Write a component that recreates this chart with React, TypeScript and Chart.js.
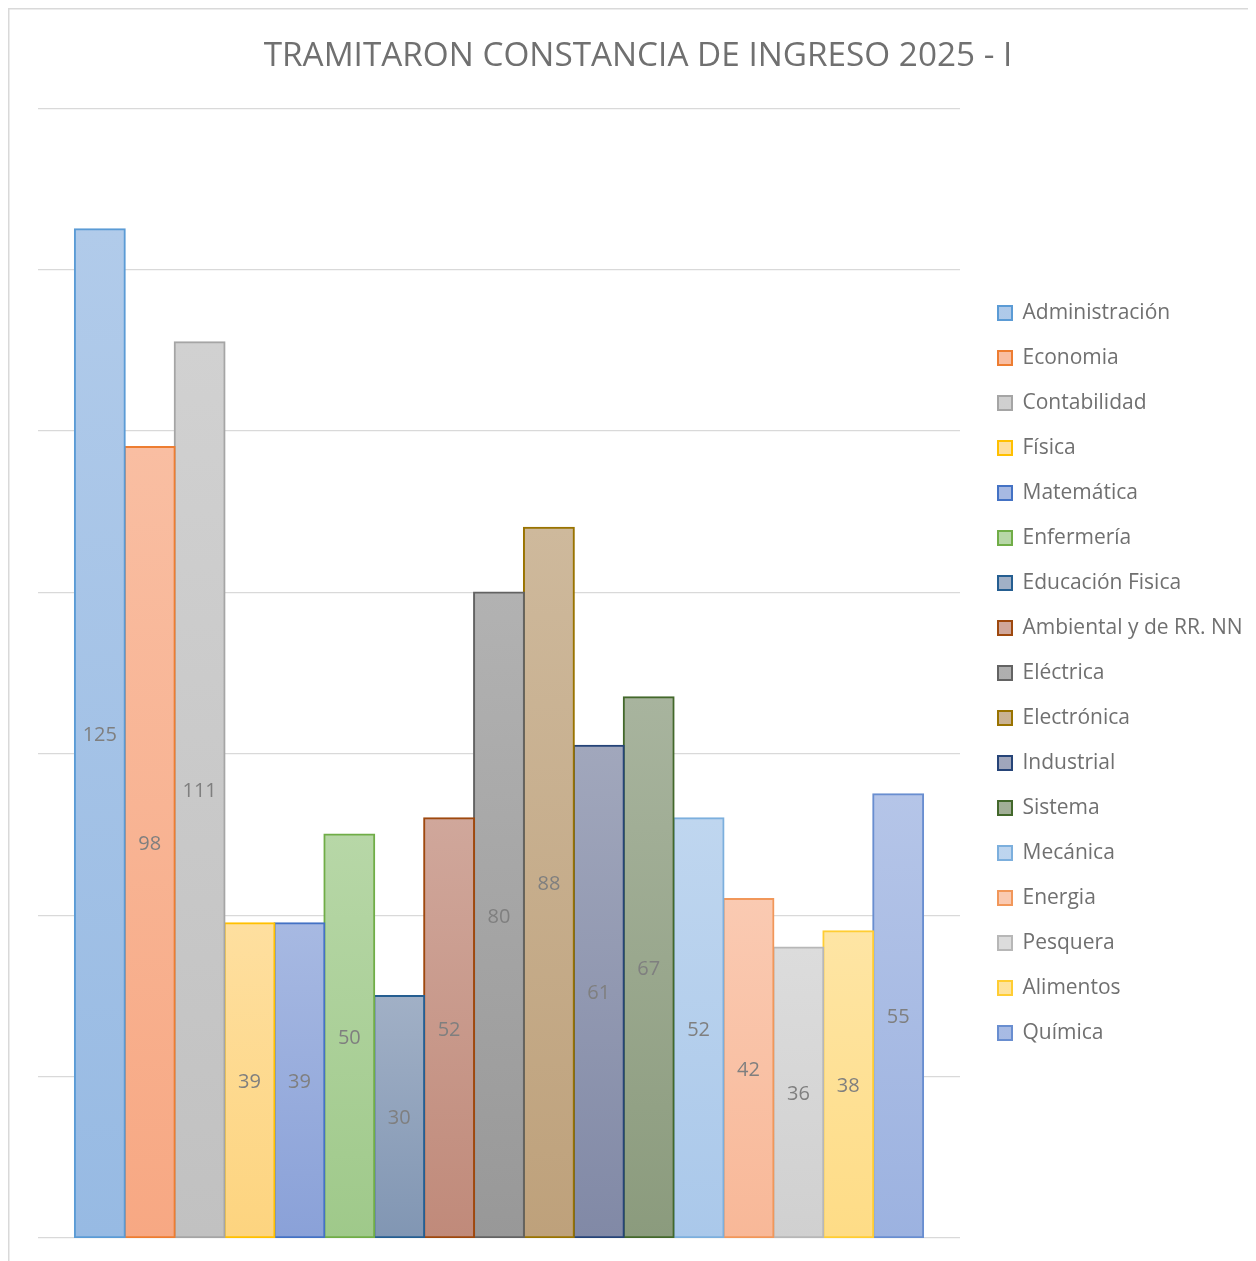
import React, { useEffect, useRef } from 'react';
import { Chart, registerables } from 'chart.js';

Chart.register(...registerables);

const TITLE = 'TRAMITARON CONSTANCIA DE INGRESO 2025 - I';
const CATEGORY = [''];
const programs = [
  'Administración',
  'Economia',
  'Contabilidad',
  'Física',
  'Matemática',
  'Enfermería',
  'Educación Fisica',
  'Ambiental y de RR. NN',
  'Eléctrica',
  'Electrónica',
  'Industrial',
  'Sistema',
  'Mecánica',
  'Energia',
  'Pesquera',
  'Alimentos',
  'Química',
];
const counts = [125, 98, 111, 39, 39, 50, 30, 52, 80, 88, 61, 67, 52, 42, 36, 38, 55];
const Y_MIN = 0;
const Y_MAX = 140;
const Y_STEP = 20;

// styles
const borderColors = [
  '#5b9bd5', '#ed7d31', '#a5a5a5', '#ffc000', '#4472c4', '#70ad47', '#255e91', '#9e480e', '#636363',
  '#997300', '#264478', '#43682b', '#7cafdd', '#f1975a', '#b7b7b7', '#ffcd33', '#698ed0',
];
const fillColors = [
  '#97bae3', '#f7a883', '#c1c1c1', '#fdd47f', '#8aa1d8', '#9fc98a', '#8196b3', '#c08a7a', '#989898',
  '#bea17b', '#8189a6', '#8b9b7d', '#aac8ea', '#f8b898', '#d0d0d0', '#fedc86', '#9cb2e0',
];

const W = 1260;
const H = 1280;
const FONT = '"Open Sans", "Noto Sans", sans-serif';
const TEXT_COLOR = '#707070';

function lighten(hex: string, t: number): string {
  const n = parseInt(hex.slice(1), 16);
  const r = (n >> 16) & 255, g = (n >> 8) & 255, b = n & 255;
  const f = (c: number) => Math.round(c + (255 - c) * t);
  return `rgb(${f(r)},${f(g)},${f(b)})`;
}

export default function App() {
  const ref = useRef<HTMLCanvasElement | null>(null);

  useEffect(() => {
    if (!ref.current) return;
    document.body.style.overflow = 'hidden';

    const legendFontSize = 21;
    const legendPadding = 24;
    const boxW = 14;
    const m = document.createElement('canvas').getContext('2d')!;
    m.font = `${legendFontSize}px ${FONT}`;
    const maxText = Math.max(...programs.map((p) => m.measureText(p).width));
    const legendW = legendPadding + boxW + legendFontSize / 2 + maxText + 10;
    const areaLeft = 30;
    const areaRight = 952;
    const legendLeft = 966;
    const sidePad = Math.max(0, W - legendLeft - legendW);

    const bgPlugin = {
      id: 'frame',
      beforeDraw(chart: any) {
        const c = chart.ctx;
        c.save();
        c.fillStyle = '#ffffff';
        c.fillRect(0, 0, chart.width, chart.height);
        c.strokeStyle = '#d9d9d9';
        c.lineWidth = 1.5;
        c.strokeRect(0.75, 0.75, chart.width - 1.5, chart.height - 1.5);
        c.restore();
      },
    };

    const labelPlugin = {
      id: 'barLabels',
      afterDatasetsDraw(chart: any) {
        const c = chart.ctx;
        c.save();
        c.font = `20px ${FONT}`;
        c.fillStyle = '#7f7f7f';
        c.textAlign = 'center';
        c.textBaseline = 'middle';
        chart.data.datasets.forEach((ds: any, i: number) => {
          const meta = chart.getDatasetMeta(i);
          meta.data.forEach((el: any, j: number) => {
            const { x, y, base } = el.getProps(['x', 'y', 'base'], true);
            c.fillText(String(ds.data[j]), x, (y + base) / 2 + 2);
          });
        });
        c.restore();
      },
    };

    const datasets = programs.map((name, i) => ({
      label: name,
      data: [counts[i]],
      borderColor: borderColors[i],
      borderWidth: 2,
      borderSkipped: false,
      inflateAmount: 1,
      backgroundColor: (ctx: any) => {
        const top = lighten(fillColors[i], 0.25);
        if (ctx.type !== 'data') return lighten(fillColors[i], 0.15);
        const chart = ctx.chart;
        const ys = chart.scales?.y;
        if (!chart.chartArea || !ys) return fillColors[i];
        const v = ctx.dataset.data[ctx.dataIndex];
        const y0 = ys.getPixelForValue(v);
        const y1 = ys.getPixelForValue(0);
        if (!isFinite(y0) || !isFinite(y1) || y0 === y1) return fillColors[i];
        const g = chart.ctx.createLinearGradient(0, y0, 0, y1);
        g.addColorStop(0, top);
        g.addColorStop(1, fillColors[i]);
        return g;
      },
    }));

    const chart = new Chart(ref.current, {
      type: 'bar',
      data: { labels: CATEGORY, datasets: datasets as any },
      plugins: [bgPlugin, labelPlugin],
      options: {
        responsive: false,
        animation: false,
        devicePixelRatio: 1,
        events: [],
        categoryPercentage: 0.92,
        barPercentage: 1,
        layout: {
          padding: { left: sidePad, right: sidePad, top: 0, bottom: H - 1230 },
        },
        scales: {
          x: {
            type: 'category',
            display: false,
            grid: { display: false },
          },
          y: {
            type: 'linear',
            position: 'left',
            min: Y_MIN,
            max: Y_MAX,
            ticks: { display: false, stepSize: Y_STEP },
            grid: { color: '#d9d9d9', lineWidth: 1.3, drawTicks: false },
            border: { display: false },
            afterFit: (s: any) => {
              s.width = areaLeft - sidePad;
            },
          },
          yRight: {
            type: 'linear',
            position: 'right',
            display: true,
            ticks: { display: false },
            grid: { display: false, drawTicks: false },
            border: { display: false },
            afterFit: (s: any) => {
              s.width = legendLeft - areaRight;
            },
          },
        },
        plugins: {
          title: {
            display: true,
            text: TITLE,
            color: TEXT_COLOR,
            font: { family: FONT, size: 33.3, weight: 'normal' as any, lineHeight: 1.2 },
            padding: { top: 28.2, bottom: 32 },
          },
          legend: {
            display: true,
            position: 'right',
            fullSize: false,
            align: 'center',
            maxWidth: 400,
            labels: {
              color: TEXT_COLOR,
              font: { family: FONT, size: legendFontSize },
              boxWidth: boxW,
              boxHeight: boxW,
              padding: legendPadding,
            },
          },
          tooltip: { enabled: false },
        },
      } as any,
    });

    return () => {
      chart.destroy();
    };
  }, []);

  return (
    <div style={{ width: 1248, height: 1253, overflow: 'hidden' }}>
      <canvas ref={ref} width={W} height={H} style={{ display: 'block', width: W, height: H }} />
    </div>
  );
}
